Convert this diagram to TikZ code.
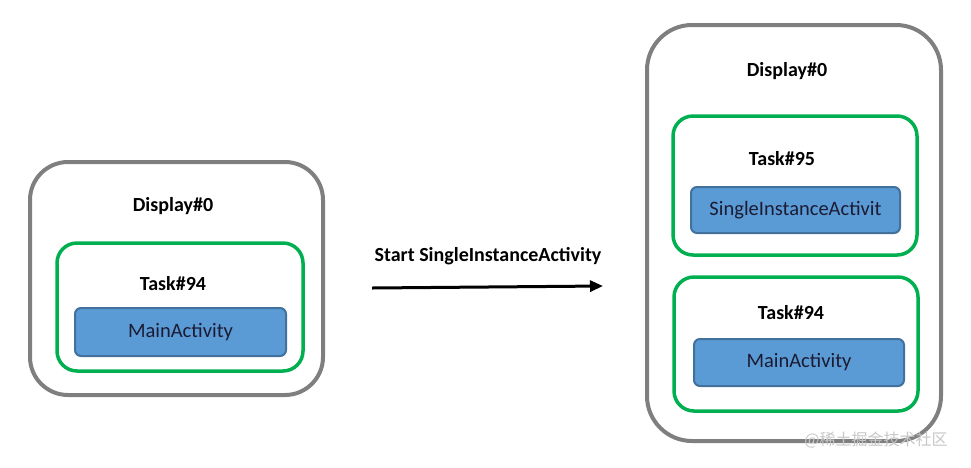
\documentclass[tikz,border=0pt]{standalone}
\usepackage{fontspec}
\setmainfont{Carlito}
\newfontfamily\cjkfont{Noto Sans CJK SC}
\usetikzlibrary{arrows.meta}

\definecolor{dispgray}{HTML}{7F7F7F}
\definecolor{taskgreen}{HTML}{00B050}
\definecolor{actfill}{HTML}{5B9BD5}
\definecolor{actdraw}{HTML}{41719C}
\definecolor{acttext}{HTML}{1B1B33}

\tikzstyle{pixfig}=[x=1pt,y=-1pt]
\tikzstyle{displaybox}=[draw=dispgray,line width=4pt,rounded corners=38pt]
\tikzstyle{taskbox}=[draw=taskgreen,line width=3.5pt,rounded corners=20pt]
\tikzstyle{actbox}=[draw=actdraw,fill=actfill,line width=2pt,rounded corners=6pt,
    text=acttext,font=\fontsize{20.5}{24}\selectfont]
\tikzstyle{title}=[font=\bfseries\fontsize{20}{24}\selectfont]

\begin{document}
\begin{tikzpicture}[style=pixfig]
\useasboundingbox (0,0) rectangle (971,467);

% before: one task
\node[displaybox,minimum width=293,minimum height=233] (disp) at (176.5,278.5) {};
\node[title] (dispname) at (173,206) {Display\#0};
\node[taskbox,minimum width=246,minimum height=128] (task) at (180,307) {};
\node[title] (taskname) at (173,284) {Task\#94};
\node[actbox,minimum width=211,minimum height=48] (main) at (180.5,332) {MainActivity};

% the launch
\coordinate (from) at (372,288);
\coordinate (to) at (603,286);
\draw[line width=3pt,-{Triangle[length=13pt,width=11pt]}] (from) -- (to);
\node[title] (launch) at (488,256) {Start SingleInstanceActivity};

% after: two tasks
\node[displaybox,rounded corners=45pt,minimum width=294,minimum height=416] (newdisp) at (794,233) {};
\node[title] (newdispname) at (787,71) {Display\#0};
\node[taskbox,minimum width=244,minimum height=139] (newtask) at (795,185.5) {};
\node[title] (newtaskname) at (782,159) {Task\#95};
\node[actbox,minimum width=209,minimum height=46] (single) at (795.5,210) {SingleInstanceActivit};
\node[taskbox,minimum width=244,minimum height=134] (oldtask) at (796,344) {};
\node[title] (oldtaskname) at (791,313) {Task\#94};
\node[actbox,minimum width=210,minimum height=47] (oldmain) at (799,362.5) {MainActivity};

\node[text=black!22,font=\cjkfont\fontsize{16}{18}\selectfont] (mark) at (876,440) {@稀土掘金技术社区};

\end{tikzpicture}
\end{document}
